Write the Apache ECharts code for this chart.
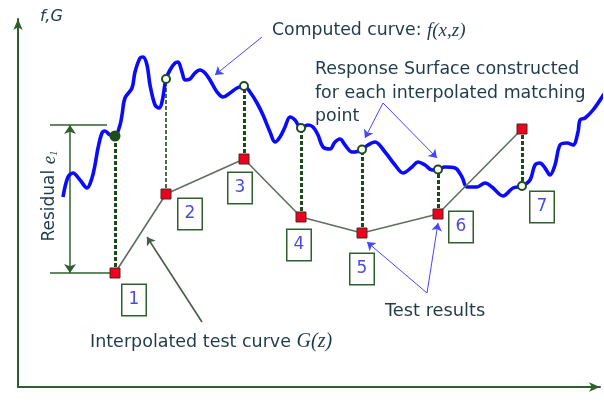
<!DOCTYPE html>
<html>
<head>
<meta charset="utf-8">
<script src="https://cdn.jsdelivr.net/npm/echarts@6/dist/echarts.min.js"></script>
<style>
  html, body { margin: 0; padding: 0; background: #fff; }
  #chart { width: 604px; height: 403px; }
</style>
</head>
<body>
<div id="chart"></div>
<script>
// Computed response f(x,z): sampled along z (horizontal) with value f (vertical)
const curveZ = [45, 50, 55, 62, 69, 74, 77, 80, 84, 87, 92, 97, 102, 104, 107, 114, 117, 122, 125, 129, 132, 137, 141, 144, 148, 152, 157, 160, 164, 167, 172, 177, 182, 187, 192, 199, 205, 212, 219, 226, 232, 239, 245, 252, 257, 262, 267, 272, 277, 283, 290, 295, 300, 305, 312, 317, 322, 327, 334, 337, 344, 350, 357, 367, 377, 385, 394, 400, 407, 414, 420, 427, 437, 444, 449, 459, 467, 474, 485, 495, 504, 512, 517, 522, 527, 532, 537, 542, 549, 555, 560, 562, 567, 575, 586];
const curveF = [190, 210, 214, 207, 199, 209, 222, 239, 254, 256, 252, 251, 262, 272, 289, 299, 315, 329, 330, 322, 302, 282, 279, 285, 308, 317, 324, 325, 315, 307, 308, 314, 317, 314, 307, 295, 290, 294, 299, 301, 295, 284, 272, 255, 245, 250, 260, 270, 267, 259, 262, 260, 252, 240, 238, 245, 248, 242, 235, 235, 237.5, 242, 245, 235, 222, 214, 220, 225, 222, 217, 217.5, 220, 219, 210, 200, 200, 204, 200, 191, 199, 201, 207, 222, 224, 219, 212, 222, 242, 244, 242, 255, 267, 269, 277, 293];

// Matching points: test results G(z) and computed values f at the same z
const pointZ = [97, 148, 226, 283, 344, 420, 504];
const testG = [114, 193, 228, 170, 154, 173, 258];
const computedF = [251, 308, 301, 259, 237.5, 217.5, 201];
const pointLabels = ['1', '2', '3', '4', '5', '6', '7'];

// Residual bracket: upper level (lower level = first test value)
const residualTop = 262;

const axisGreen = '#2f5f2f';
const textColor = '#1f3a48';
const arrowBlue = '#4646ff';

// Offsets of the numbered boxes from their test point
const boxOffsets = [[19, 27], [24, 20], [-4, 29], [-2, 28], [0, 36], [23, 13], [20, 78]];

const chart = echarts.init(document.getElementById('chart'), null, { renderer: 'canvas' });

const dashData = pointZ.map((z, i) => ({
  coords: [[z, testG[i]], [z, computedF[i]]],
  lineStyle: { width: i === 1 ? 1.6 : 3 }
}));

const arrows = [
  { coords: [[244, 350], [197, 312]], color: arrowBlue },
  { coords: [[365, 284], [347, 249]], color: arrowBlue },
  { coords: [[365, 284], [419, 229]], color: arrowBlue },
  { coords: [[409, 94], [349, 145]], color: arrowBlue },
  { coords: [[409, 94], [420, 164]], color: arrowBlue },
  { coords: [[184, 65], [129, 150]], color: '#4a5a4a', width: 1.6 }
];

const option = {
  animation: false,
  grid: { left: 18, right: 4, top: 19, bottom: 16, containLabel: false },
  xAxis: {
    type: 'value', min: 0, max: 582,
    axisLine: { show: true, onZero: false, symbol: ['none', 'arrow'], symbolSize: [7, 11], lineStyle: { color: axisGreen, width: 2 } },
    axisTick: { show: false }, axisLabel: { show: false }, splitLine: { show: false }
  },
  yAxis: {
    type: 'value', min: 0, max: 368,
    axisLine: { show: true, onZero: false, symbol: ['none', 'arrow'], symbolSize: [7, 11], lineStyle: { color: axisGreen, width: 2 } },
    axisTick: { show: false }, axisLabel: { show: false }, splitLine: { show: false }
  },
  series: [
    {
      // residual bracket
      type: 'lines', coordinateSystem: 'cartesian2d', z: 1,
      lineStyle: { color: axisGreen, width: 1.5, opacity: 1 },
      data: [
        { coords: [[32, residualTop], [89, residualTop]] },
        { coords: [[32, testG[0]], [pointZ[0], testG[0]]] },
        { coords: [[52, (residualTop + testG[0]) / 2], [52, residualTop]], symbol: ['none', 'arrow'], symbolSize: 9 },
        { coords: [[52, (residualTop + testG[0]) / 2], [52, testG[0]]], symbol: ['none', 'arrow'], symbolSize: 9 }
      ]
    },
    {
      type: 'lines', coordinateSystem: 'cartesian2d', z: 2,
      lineStyle: { color: '#1a4a1a', type: [4, 2], opacity: 1 },
      data: dashData
    },
    {
      type: 'line', z: 3, smooth: 0.35, symbol: 'none',
      lineStyle: { color: '#0a0aff', width: 3.6 },
      data: curveZ.map((z, i) => [z, curveF[i]])
    },
    {
      type: 'line', z: 4, symbol: 'none',
      lineStyle: { color: '#5f6f5f', width: 1.6 },
      data: pointZ.map((z, i) => [z, testG[i]])
    },
    {
      type: 'scatter', z: 5, symbol: 'circle', symbolSize: 8,
      itemStyle: { color: '#ffffff', borderColor: '#1d4d1d', borderWidth: 2, opacity: 1 },
      data: pointZ.map((z, i) => i === 0
        ? { value: [z, computedF[i]], symbolSize: 9, itemStyle: { color: '#1d4d1d' } }
        : [z, computedF[i]])
    },
    {
      type: 'scatter', z: 6, symbol: 'rect', symbolSize: 10,
      itemStyle: { color: '#ee0020', borderColor: '#4a2a1a', borderWidth: 1, opacity: 1 },
      label: {
        show: true, position: 'inside',
        fontFamily: 'DejaVu Sans', fontSize: 17, color: '#4b4be0',
        backgroundColor: '#ffffff', borderColor: axisGreen, borderWidth: 1.5,
        width: 23, height: 30, lineHeight: 30, align: 'center', verticalAlign: 'middle',
        formatter: p => pointLabels[p.dataIndex]
      },
      data: pointZ.map((z, i) => ({ value: [z, testG[i]], label: { offset: boxOffsets[i] } }))
    },
    {
      type: 'lines', coordinateSystem: 'cartesian2d', z: 7,
      symbol: ['none', 'arrow'], symbolSize: 8,
      lineStyle: { width: 1, opacity: 1 },
      data: arrows.map(a => ({ coords: a.coords, lineStyle: { color: a.color, width: a.width || 1 } }))
    }
  ],
  graphic: [
    {
      type: 'text', x: 40, y: 17,
      style: { text: 'f,G', font: 'italic 16px "DejaVu Sans"', fill: textColor, verticalAlign: 'middle' }
    },
    {
      type: 'text', x: 272, y: 31,
      style: {
        text: '{a|Computed curve: }{b|f(x,z)}', verticalAlign: 'middle', fill: textColor,
        rich: {
          a: { fontFamily: 'DejaVu Sans', fontSize: 17.3, fill: textColor },
          b: { fontFamily: 'Liberation Serif', fontStyle: 'italic', fontSize: 19, fill: textColor }
        }
      }
    },
    {
      type: 'text', x: 315, y: 58,
      style: { text: 'Response Surface constructed\nfor each interpolated matching\npoint', font: '17.4px "DejaVu Sans"', fill: textColor, lineHeight: 23.5, verticalAlign: 'top' }
    },
    {
      type: 'text', x: 50, y: 196, rotation: Math.PI / 2,
      style: {
        text: '{a|Residual }{e|e}{s|1}', align: 'center', verticalAlign: 'middle', fill: textColor,
        rich: {
          a: { fontFamily: 'DejaVu Sans', fontSize: 17, fill: textColor },
          e: { fontFamily: 'Liberation Serif', fontStyle: 'italic', fontSize: 19, fill: textColor },
          s: { fontFamily: 'Liberation Serif', fontStyle: 'italic', fontSize: 11, fill: textColor, padding: [8, 0, 0, 0] }
        }
      }
    },
    {
      type: 'text', x: 90, y: 342,
      style: {
        text: '{a|Interpolated test curve }{b|G(z)}', verticalAlign: 'middle', fill: textColor,
        rich: {
          a: { fontFamily: 'DejaVu Sans', fontSize: 17.5, fill: textColor },
          b: { fontFamily: 'Liberation Serif', fontStyle: 'italic', fontSize: 20, fill: textColor }
        }
      }
    },
    {
      type: 'text', x: 385, y: 311,
      style: { text: 'Test results', font: '17.8px "DejaVu Sans"', fill: textColor, verticalAlign: 'middle' }
    }
  ]
};

chart.setOption(option);
</script>
</body>
</html>
